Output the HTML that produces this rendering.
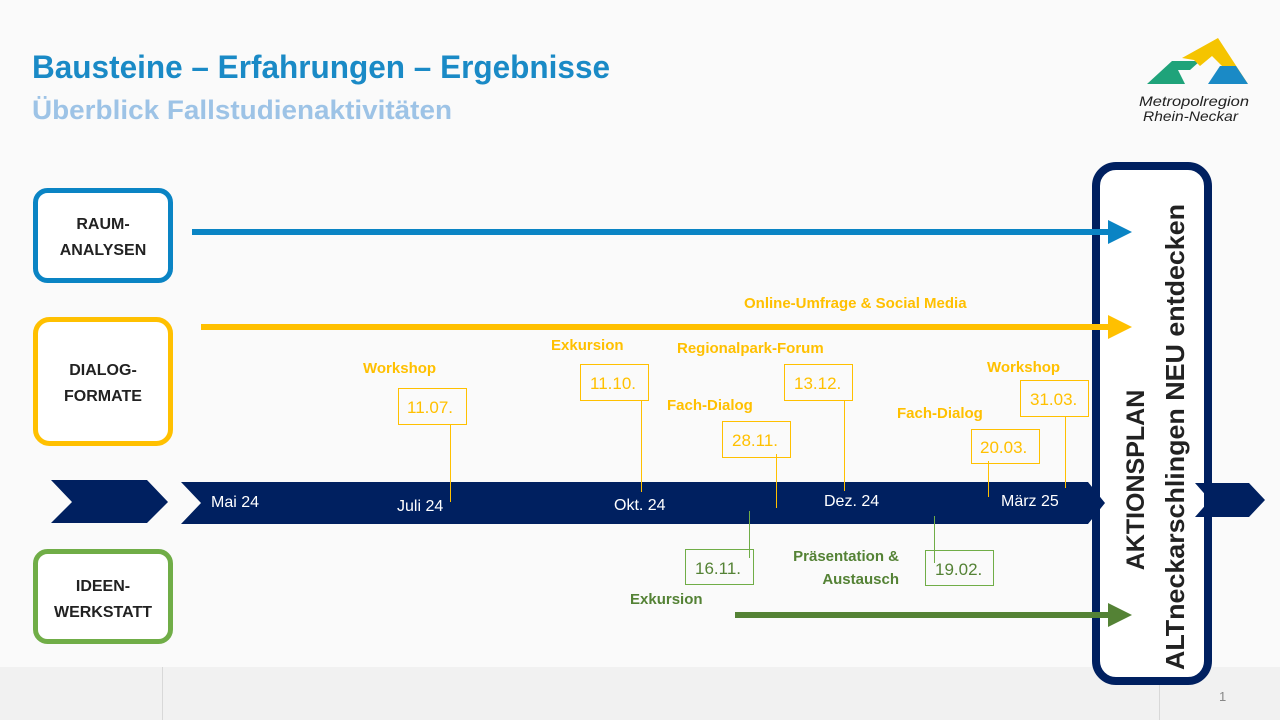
<!DOCTYPE html>
<html><head><meta charset="utf-8"><style>
html,body{margin:0;padding:0;background:#fafafa;}
svg{display:block;}
text{font-family:"Liberation Sans","DejaVu Sans",sans-serif;}
</style></head><body>
<svg width="1280" height="720" viewBox="0 0 1280 720" xmlns="http://www.w3.org/2000/svg">
<rect width="1280" height="720" fill="#fafafa"/>
<rect x="0" y="667" width="1280" height="53" fill="#f1f1f1"/>
<line x1="162.5" y1="667" x2="162.5" y2="720" stroke="#d8d8d8"/>
<line x1="1159.5" y1="667" x2="1159.5" y2="720" stroke="#d8d8d8"/>
<text x="1219" y="701" font-size="13" fill="#888" font-family="Liberation Serif,serif">1</text>

<text x="32" y="78" font-size="32" font-weight="bold" fill="#1a8ac6" textLength="578" lengthAdjust="spacingAndGlyphs">Bausteine – Erfahrungen – Ergebnisse</text>
<text x="32" y="119" font-size="27" font-weight="bold" fill="#9dc3e6" textLength="420" lengthAdjust="spacingAndGlyphs">Überblick Fallstudienaktivitäten</text>

<!-- logo -->
<polygon points="1147,84 1172,61 1200,61 1190,70 1178,70 1185,84" fill="#1fa37a"/>
<polygon points="1182,58 1218,38 1248,84 1232,66 1222,66 1212,56 1200,66 1194,60" fill="#f5c400"/>
<polygon points="1208,84 1220,66 1236,66 1248,84" fill="#1a8ac6"/>
<text x="1139" y="106" font-size="14" font-style="italic" fill="#222" textLength="110" lengthAdjust="spacingAndGlyphs">Metropolregion</text>
<text x="1143" y="121" font-size="14" font-style="italic" fill="#222" textLength="95" lengthAdjust="spacingAndGlyphs">Rhein-Neckar</text>

<!-- category boxes -->
<rect x="35.5" y="190.5" width="135" height="90" rx="12" fill="#fff" stroke="#0a84c4" stroke-width="5"/>
<text x="103" y="229" font-size="16" font-weight="bold" fill="#222" text-anchor="middle">RAUM-</text>
<text x="103" y="255" font-size="16" font-weight="bold" fill="#222" text-anchor="middle">ANALYSEN</text>
<rect x="35.5" y="319.5" width="135" height="124" rx="14" fill="#fff" stroke="#ffc000" stroke-width="5"/>
<text x="103" y="375" font-size="16" font-weight="bold" fill="#222" text-anchor="middle">DIALOG-</text>
<text x="103" y="401" font-size="16" font-weight="bold" fill="#222" text-anchor="middle">FORMATE</text>
<rect x="35.5" y="551.5" width="135" height="90" rx="12" fill="#fff" stroke="#70ad47" stroke-width="5"/>
<text x="103" y="591" font-size="16" font-weight="bold" fill="#222" text-anchor="middle">IDEEN-</text>
<text x="103" y="617" font-size="16" font-weight="bold" fill="#222" text-anchor="middle">WERKSTATT</text>

<!-- aktionsplan box -->
<rect x="1096" y="166" width="112" height="515" rx="20" fill="#fff" stroke="#002060" stroke-width="8"/>
<text transform="translate(1144,480) rotate(-90)" font-size="25" font-weight="bold" fill="#222" text-anchor="middle">AKTIONSPLAN</text>
<text transform="translate(1184,437) rotate(-90)" font-size="26" font-weight="bold" fill="#222" text-anchor="middle" textLength="466" lengthAdjust="spacingAndGlyphs">ALTneckarschlingen NEU entdecken</text>

<!-- arrows -->
<rect x="192" y="229" width="918" height="6" fill="#0a84c4"/>
<polygon points="1108,220 1132,232 1108,244" fill="#0a84c4"/>
<rect x="201" y="324" width="909" height="6" fill="#ffc000"/>
<polygon points="1108,315 1132,327 1108,339" fill="#ffc000"/>
<rect x="735" y="612" width="375" height="6" fill="#548235"/>
<polygon points="1108,603 1132,615 1108,627" fill="#548235"/>

<!-- timeline -->
<polygon points="51,480 147,480 168,502 147,523 51,523 72,502" fill="#002060"/>
<polygon points="181,482 1088,482 1105,503 1088,524 181,524 201,503" fill="#002060"/>
<polygon points="1195,483 1249,483 1265,500 1249,517 1195,517 1210,500" fill="#002060"/>
<g font-size="16" fill="#fff">
<text x="211" y="507">Mai 24</text>
<text x="397" y="511">Juli 24</text>
<text x="614" y="510">Okt. 24</text>
<text x="824" y="506">Dez. 24</text>
<text x="1001" y="506">März 25</text>
</g>

<!-- yellow events -->
<g stroke="#ffc000" stroke-width="1" fill="none">
<rect x="398.5" y="388.5" width="68" height="36"/><line x1="450.5" y1="424" x2="450.5" y2="502"/>
<rect x="580.5" y="364.5" width="68" height="36"/><line x1="641.5" y1="400" x2="641.5" y2="492"/>
<rect x="784.5" y="364.5" width="68" height="36"/><line x1="844.5" y1="400" x2="844.5" y2="491"/>
<rect x="722.5" y="421.5" width="68" height="36"/><line x1="776.5" y1="454" x2="776.5" y2="508"/>
<rect x="971.5" y="429.5" width="68" height="34"/><line x1="988.5" y1="461" x2="988.5" y2="497"/>
<rect x="1020.5" y="380.5" width="68" height="36"/><line x1="1065.5" y1="416" x2="1065.5" y2="488"/>
</g>
<g font-size="17" fill="#ffc000">
<text x="407" y="413">11.07.</text>
<text x="590" y="389">11.10.</text>
<text x="794" y="389">13.12.</text>
<text x="732" y="446">28.11.</text>
<text x="980" y="453">20.03.</text>
<text x="1030" y="405">31.03.</text>
</g>
<g font-size="15" font-weight="bold" fill="#ffc000">
<text x="363" y="373">Workshop</text>
<text x="551" y="350">Exkursion</text>
<text x="677" y="353">Regionalpark-Forum</text>
<text x="667" y="410">Fach-Dialog</text>
<text x="744" y="308">Online-Umfrage &amp; Social Media</text>
<text x="897" y="418">Fach-Dialog</text>
<text x="987" y="372">Workshop</text>
</g>

<!-- green events -->
<g stroke="#70ad47" stroke-width="1" fill="none">
<rect x="685.5" y="549.5" width="68" height="35"/><line x1="749.5" y1="511" x2="749.5" y2="558"/>
<rect x="925.5" y="550.5" width="68" height="35"/><line x1="934.5" y1="516" x2="934.5" y2="563"/>
</g>
<g font-size="17" fill="#548235">
<text x="695" y="574">16.11.</text>
<text x="935" y="575">19.02.</text>
</g>
<g font-size="15" font-weight="bold" fill="#548235">
<text x="630" y="604">Exkursion</text>
<text x="899" y="561" text-anchor="end">Präsentation &amp;</text>
<text x="899" y="584" text-anchor="end">Austausch</text>
</g>
</svg>
</body></html>
